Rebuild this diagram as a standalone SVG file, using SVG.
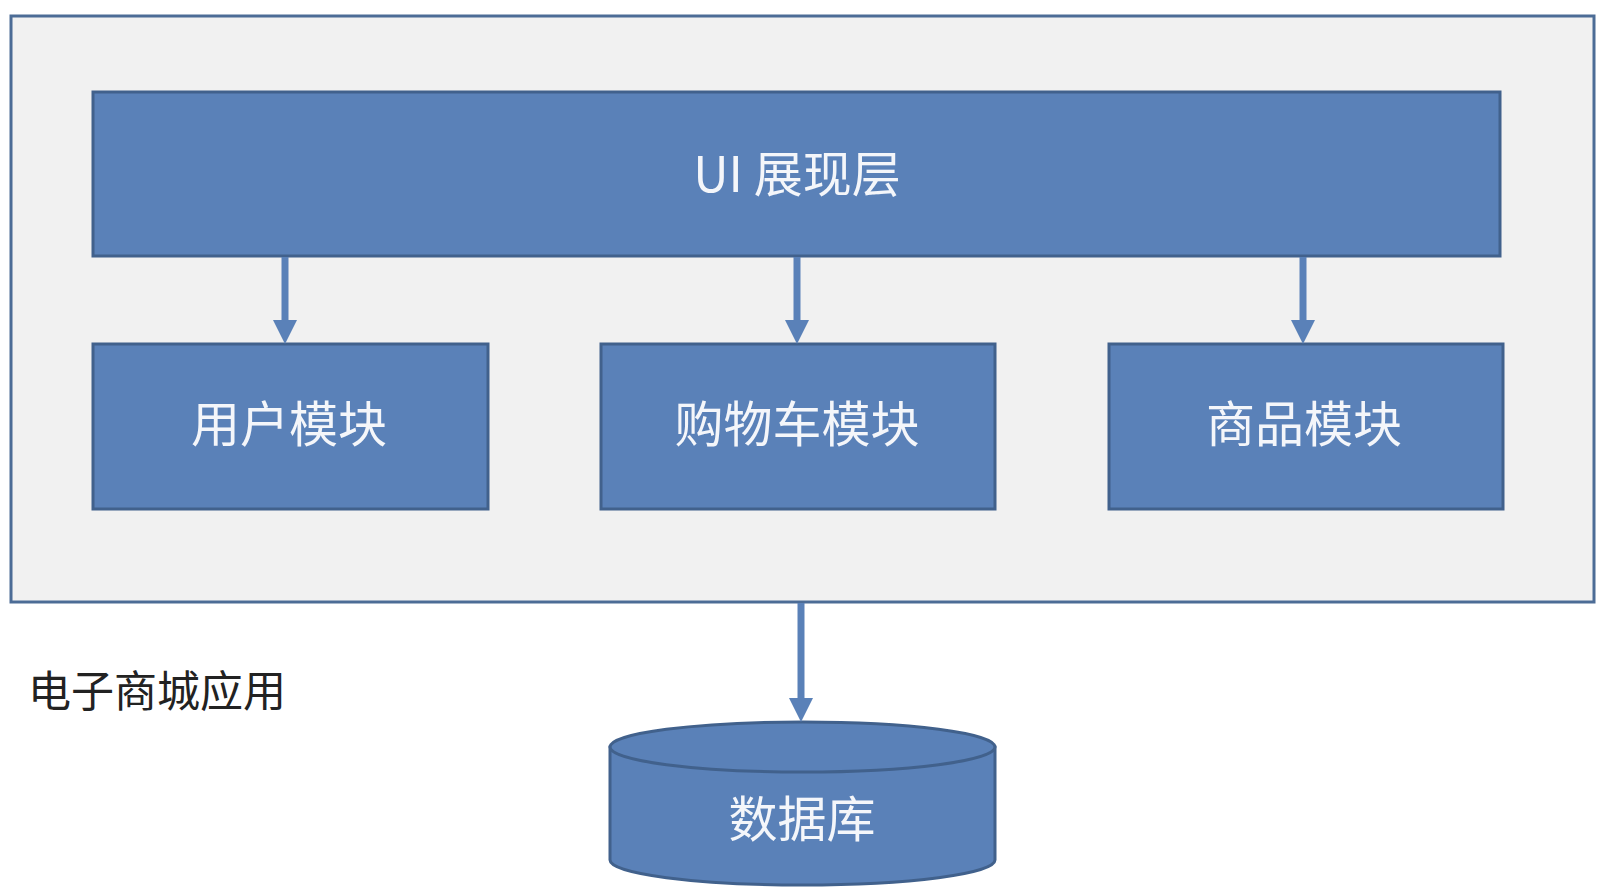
<svg xmlns="http://www.w3.org/2000/svg" width="1600" height="892" viewBox="0 0 1600 892">
<defs>
<style>
.box{fill:#5a81b8;stroke:#41618c;stroke-width:3}
.lbl{fill:#f4f6fa;font-family:"Noto Sans CJK SC","Noto Sans",sans-serif;font-size:49px;text-anchor:middle;dominant-baseline:central}
.conn{stroke:#5a81b8;stroke-width:7;fill:none}
.head{fill:#5a81b8}
</style>
</defs>
<rect width="1600" height="892" fill="#ffffff"/>
<g id="app">
<rect x="11" y="16" width="1583" height="586" fill="#f1f1f1" stroke="#4c6c96" stroke-width="3"/>
<text x="28" y="688" font-family="'Noto Sans CJK SC','Noto Sans',sans-serif" font-size="43" fill="#222" dominant-baseline="central">电子商城应用</text>
</g>
<g id="ui">
<rect class="box" x="93" y="92" width="1407" height="164"/>
<text class="lbl" x="797" y="170">UI 展现层</text>
</g>
<g id="user">
<rect class="box" x="93" y="344" width="395" height="165"/>
<text class="lbl" x="289" y="420">用户模块</text>
</g>
<g id="cart">
<rect class="box" x="601" y="344" width="394" height="165"/>
<text class="lbl" x="797" y="420">购物车模块</text>
</g>
<g id="goods">
<rect class="box" x="1109" y="344" width="394" height="165"/>
<text class="lbl" x="1304" y="420">商品模块</text>
</g>
<g id="db">
<path class="box" d="M610 747 L610 860 A192.5 25 0 0 0 995 860 L995 747 Z"/>
<ellipse class="box" cx="802.5" cy="747" rx="192.5" ry="25"/>
<text class="lbl" x="802" y="815">数据库</text>
</g>
<g id="connectors">
<line class="conn" x1="285" y1="257" x2="285" y2="322"/>
<polygon class="head" points="273,320 297,320 285,344"/>
<line class="conn" x1="797" y1="257" x2="797" y2="322"/>
<polygon class="head" points="785,320 809,320 797,344"/>
<line class="conn" x1="1303" y1="257" x2="1303" y2="322"/>
<polygon class="head" points="1291,320 1315,320 1303,344"/>
<line class="conn" x1="801" y1="603" x2="801" y2="700"/>
<polygon class="head" points="789,698 813,698 801,722"/>
</g>
</svg>
